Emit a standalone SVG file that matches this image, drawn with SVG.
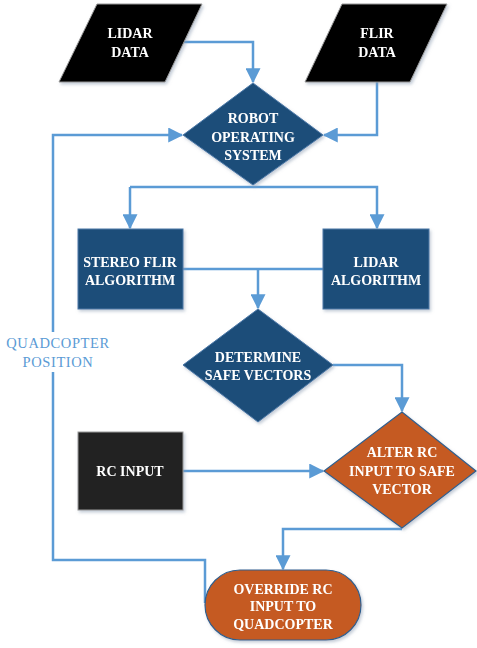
<svg xmlns="http://www.w3.org/2000/svg" width="477" height="648" viewBox="0 0 477 648">
<defs>
<marker id="ah" markerWidth="6" markerHeight="6" refX="5.5" refY="3" orient="auto" markerUnits="strokeWidth">
<path d="M0,0 L6,3 L0,6 Z" fill="#5b9bd5"/>
</marker>
<filter id="sh" x="-10%" y="-10%" width="130%" height="130%">
<feDropShadow dx="1.5" dy="2" stdDeviation="1.5" flood-color="#8a9bb0" flood-opacity="0.5"/>
</filter>
</defs>
<style>
.t{font-family:"Liberation Serif",serif;font-weight:bold;font-size:14px;fill:#ffffff;text-anchor:middle}
.blue{fill:#1f4e79;stroke:#4a78a8;stroke-width:1}
.blk{fill:#000000;stroke:#999999;stroke-width:1}
.or{fill:#c55a22;stroke:#2f5f8f;stroke-width:1.2}
.c{fill:none;stroke:#5b9bd5;stroke-width:2.5;marker-end:url(#ah)}
.cn{fill:none;stroke:#5b9bd5;stroke-width:2.5}
.lbl{font-family:"Liberation Serif",serif;font-size:14.5px;fill:#5b9bd5;text-anchor:middle;letter-spacing:0.6px}
</style>
<rect width="477" height="648" fill="#ffffff"/>
<g id="connectors">
<path class="c" d="M184,42 H253 V82"/>
<path class="c" d="M377,82 V135 H324"/>
<path class="cn" d="M253,187 H130"/>
<path class="c" d="M130,187 V228"/>
<path class="c" d="M253,187 H377 V228"/>
<path class="cn" d="M183,269 H323"/>
<path class="c" d="M258,269 V308"/>
<path class="c" d="M333,365 H402 V411"/>
<path class="c" d="M183,471 H323"/>
<path class="c" d="M402,529 H283 V569"/>
<path class="cn" d="M205,603 V560 H53 V372"/>
<path class="c" d="M53,332 V135 H182"/>
</g>
<g id="lidar-data" filter="url(#sh)">
<polygon class="blk" points="97,4 202,4 165,82 59,82"/>
<text class="t" x="130" y="38">LIDAR</text>
<text class="t" x="130" y="57">DATA</text>
</g>
<g id="flir-data" filter="url(#sh)">
<polygon class="blk" points="342,4 447,4 410,82 305,82"/>
<text class="t" x="377" y="38">FLIR</text>
<text class="t" x="377" y="57">DATA</text>
</g>
<g id="ros" filter="url(#sh)">
<polygon class="blue" points="253,83 323,135 253,185 183,135"/>
<text class="t" x="253" y="123">ROBOT</text>
<text class="t" x="253" y="142">OPERATING</text>
<text class="t" x="253" y="160">SYSTEM</text>
</g>
<g id="stereo-flir" filter="url(#sh)">
<rect class="blue" x="78" y="229" width="105" height="80"/>
<text class="t" x="130" y="267">STEREO FLIR</text>
<text class="t" x="130" y="285">ALGORITHM</text>
</g>
<g id="lidar-alg" filter="url(#sh)">
<rect class="blue" x="323" y="229" width="106" height="80"/>
<text class="t" x="376" y="267">LIDAR</text>
<text class="t" x="376" y="285">ALGORITHM</text>
</g>
<g id="determine" filter="url(#sh)">
<polygon class="blue" points="258,309 333,365 258,422 183,365"/>
<text class="t" x="258" y="362">DETERMINE</text>
<text class="t" x="258" y="380">SAFE VECTORS</text>
</g>
<g id="rc-input" filter="url(#sh)">
<rect x="78" y="432" width="105" height="78" fill="#222222" stroke="#999999" stroke-width="1"/>
<text class="t" x="130" y="476">RC INPUT</text>
</g>
<g id="alter" filter="url(#sh)">
<polygon class="or" points="402,412 476,471 402,528 324,471"/>
<text class="t" x="402" y="457">ALTER RC</text>
<text class="t" x="402" y="476">INPUT TO SAFE</text>
<text class="t" x="402" y="494">VECTOR</text>
</g>
<g id="override" filter="url(#sh)">
<rect class="or" x="205" y="570" width="156" height="70" rx="35" ry="35"/>
<text class="t" x="283" y="594">OVERRIDE RC</text>
<text class="t" x="283" y="611">INPUT TO</text>
<text class="t" x="283" y="629">QUADCOPTER</text>
</g>
<g id="quad-label">
<text class="lbl" x="58" y="348">QUADCOPTER</text>
<text class="lbl" x="58" y="367">POSITION</text>
</g>
</svg>
